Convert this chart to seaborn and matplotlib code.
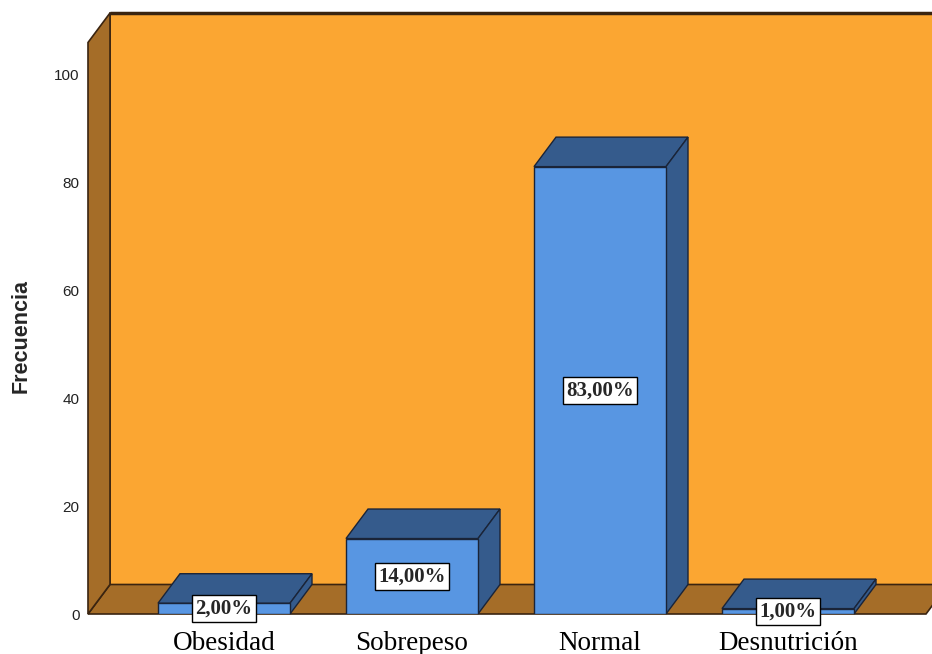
import matplotlib
matplotlib.use("Agg")
import matplotlib.pyplot as plt
from matplotlib.patches import Polygon
import seaborn as sns
import pandas as pd

# ---- data ----
categories = ["Obesidad", "Sobrepeso", "Normal", "Desnutrición"]
values = [2, 14, 83, 1]
y_ticks = [0, 20, 40, 60, 80, 100]
y_label = "Frecuencia"

total = sum(values)
pct_labels = [f"{v / total * 100:.2f}".replace(".", ",") + "%" for v in values]

# ---- style ----
sns.set_style("white")
plt.rcParams["font.family"] = ["Liberation Sans", "DejaVu Sans"]

WALL = "#FBA632"
SIDE = "#A56D28"
EDGE_W = "#3A2410"
FRONT = "#5896E2"
DARK = "#355B8C"
EDGE_B = "#1A2438"

W, H = 932, 654
fig = plt.figure(figsize=(W / 100, H / 100), dpi=100)
ax = fig.add_axes([88 / W, (H - 614) / H, (932 - 88) / W, (614 - 13) / H])

px_cat = 188.0
px_val = 5.39
xmin = (88 - 224) / px_cat
xmax = (932 - 224) / px_cat
ymax = (614 - 13) / px_val
dx = 22 / px_cat
dy = 29.5 / px_val
xR = (926 - 224) / px_cat

df = pd.DataFrame({"cat": categories, "val": values})
sns.barplot(data=df, x="cat", y="val", color=FRONT, saturation=1, width=132 / px_cat,
            ax=ax, zorder=5, edgecolor=EDGE_B, linewidth=1)

# walls
back = Polygon([(xmin + dx, dy), (xR + dx, dy), (xR + dx, ymax), (xmin + dx, ymax)],
               closed=True, facecolor=WALL, edgecolor=EDGE_W, lw=1.2, zorder=1, clip_on=False)
floor = Polygon([(xmin, 0), (xR, 0), (xR + dx, dy), (xmin + dx, dy)],
                closed=True, facecolor=SIDE, edgecolor=EDGE_W, lw=1.2, zorder=2, clip_on=False)
side = Polygon([(xmin, 0), (xmin, ymax - dy), (xmin + dx, ymax), (xmin + dx, dy)],
               closed=True, facecolor=SIDE, edgecolor=EDGE_W, lw=1.2, zorder=2, clip_on=False)
for p in (back, floor, side):
    ax.add_patch(p)
ax.plot([xmin + dx, xR + dx], [ymax, ymax], color=EDGE_W, lw=2.5, zorder=2, clip_on=False,
        solid_capstyle="butt")

# 3D tops and sides for bars
for i, patch in enumerate(ax.patches[:len(values)]):
    x0 = patch.get_x()
    x1 = x0 + patch.get_width()
    h = patch.get_height()
    top = Polygon([(x0, h), (x1, h), (x1 + dx, h + dy), (x0 + dx, h + dy)], closed=True,
                  facecolor=DARK, edgecolor=EDGE_B, lw=1, zorder=4, clip_on=False)
    sd = Polygon([(x1, 0), (x1, h), (x1 + dx, h + dy), (x1 + dx, dy)], closed=True,
                 facecolor=DARK, edgecolor=EDGE_B, lw=1, zorder=4, clip_on=False)
    ax.add_patch(top)
    ax.add_patch(sd)
    ax.text(x0 + patch.get_width() / 2, h / 2, pct_labels[i], ha="center", va="center",
            fontsize=15, fontweight="bold", family="Liberation Serif", zorder=8,
            bbox=dict(boxstyle="square,pad=0.16", facecolor="white", edgecolor="black", lw=1))

ax.set_xlim(xmin, xmax)
ax.set_ylim(0, ymax)
ax.set_yticks(y_ticks)
ax.set_yticklabels([str(t) for t in y_ticks], fontsize=11, color="#222222")
ax.tick_params(axis="y", length=0, pad=6)
ax.set_xticks(range(len(categories)))
ax.set_xticklabels(categories, fontsize=19.5, family="Liberation Serif", color="black")
ax.tick_params(axis="x", length=0, pad=12)
ax.set_xlabel("")
ax.set_ylabel(y_label, fontsize=15.5, fontweight="bold")
ax.yaxis.set_label_coords((32 - 88) / 844, (614 - 336) / 601)
for s in ax.spines.values():
    s.set_visible(False)
ax.patch.set_alpha(0)

fig.savefig("out.png", dpi=100, facecolor="white")
